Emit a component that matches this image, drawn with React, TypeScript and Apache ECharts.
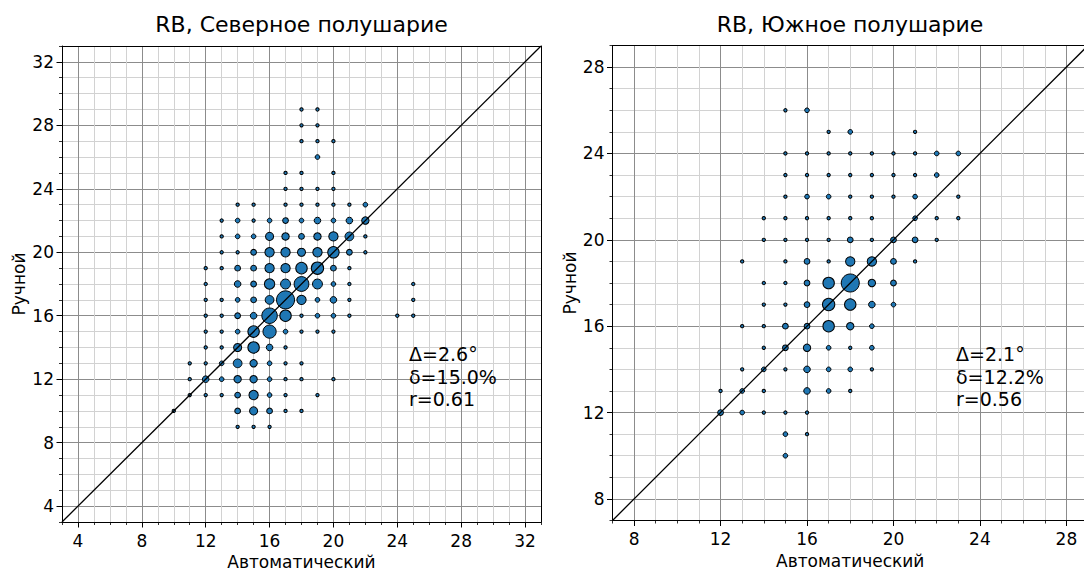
import React, { useEffect, useRef } from "react";
import * as echarts from "echarts";

const FONT = "DejaVu Sans";

const northTitle = "RB, Северное полушарие";
const southTitle = "RB, Южное полушарие";
const xName = "Автоматический";
const yName = "Ручной";

const northRange = [3, 33];
const southRange = [7, 29];
const northTicks = [4, 8, 12, 16, 20, 24, 28, 32];
const southTicks = [8, 12, 16, 20, 24, 28];

const northStats = ["Δ=2.6°", "δ=15.0%", "r=0.61"];
const southStats = ["Δ=2.1°", "δ=12.2%", "r=0.56"];

// [automatic, manual, count]
const northPoints: number[][] = [
  [18, 29, 1], [19, 29, 1],
  [18, 28, 1], [19, 28, 1],
  [18, 27, 1], [19, 27, 1], [20, 27, 1],
  [19, 26, 2],
  [17, 25, 1], [18, 25, 1], [20, 25, 1],
  [17, 24, 1], [18, 24, 1], [19, 24, 1], [20, 24, 1],
  [14, 23, 1], [15, 23, 1], [17, 23, 1], [18, 23, 1], [19, 23, 1], [20, 23, 1], [21, 23, 1], [22, 23, 2],
  [13, 22, 1], [14, 22, 2], [15, 22, 1], [16, 22, 2], [17, 22, 3], [18, 22, 2], [19, 22, 4], [20, 22, 2], [21, 22, 4], [22, 22, 5],
  [13, 21, 1], [14, 21, 2], [15, 21, 2], [16, 21, 6], [17, 21, 5], [18, 21, 3], [19, 21, 5], [20, 21, 8], [21, 21, 7], [22, 21, 1],
  [13, 20, 1], [14, 20, 1], [15, 20, 3], [16, 20, 8], [17, 20, 8], [18, 20, 6], [19, 20, 8], [20, 20, 12], [21, 20, 3], [22, 20, 1],
  [12, 19, 1], [13, 19, 1], [14, 19, 3], [15, 19, 3], [16, 19, 8], [17, 19, 8], [18, 19, 12], [19, 19, 14], [20, 19, 3], [21, 19, 1],
  [12, 18, 1], [14, 18, 4], [15, 18, 3], [16, 18, 10], [17, 18, 9], [18, 18, 20], [19, 18, 9], [20, 18, 2], [21, 18, 1], [25, 18, 1],
  [12, 17, 1], [13, 17, 1], [14, 17, 2], [15, 17, 3], [16, 17, 7], [17, 17, 30], [18, 17, 8], [19, 17, 2], [20, 17, 4], [21, 17, 1], [25, 17, 1],
  [12, 16, 1], [13, 16, 1], [14, 16, 3], [15, 16, 4], [16, 16, 22], [17, 16, 12], [18, 16, 1], [19, 16, 2], [20, 16, 2], [21, 16, 1], [24, 16, 1], [25, 16, 1],
  [12, 15, 1], [13, 15, 1], [14, 15, 2], [15, 15, 12], [16, 15, 16], [17, 15, 2], [18, 15, 1], [19, 15, 1], [20, 15, 1],
  [12, 14, 1], [13, 14, 1], [14, 14, 6], [15, 14, 12], [16, 14, 4], [17, 14, 1],
  [11, 13, 1], [12, 13, 1], [13, 13, 2], [14, 13, 7], [15, 13, 5], [16, 13, 2], [17, 13, 1], [18, 13, 1],
  [11, 12, 1], [12, 12, 4], [13, 12, 2], [14, 12, 5], [15, 12, 5], [16, 12, 2], [17, 12, 1], [18, 12, 1], [20, 12, 1],
  [11, 11, 1], [12, 11, 1], [13, 11, 1], [14, 11, 3], [15, 11, 8], [16, 11, 2], [17, 11, 1], [19, 11, 1],
  [10, 10, 1], [14, 10, 3], [15, 10, 6], [16, 10, 3], [17, 10, 1], [18, 10, 1],
  [14, 9, 1], [15, 9, 1], [16, 9, 1],
];

const southPoints: number[][] = [
  [15, 26, 1], [16, 26, 2],
  [17, 25, 1], [18, 25, 2], [21, 25, 1],
  [15, 24, 1], [16, 24, 1], [17, 24, 1], [18, 24, 1], [19, 24, 1], [20, 24, 1], [21, 24, 1], [22, 24, 2], [23, 24, 2],
  [15, 23, 1], [16, 23, 1], [17, 23, 1], [18, 23, 1], [19, 23, 1], [20, 23, 1], [21, 23, 1], [22, 23, 2],
  [15, 22, 1], [16, 22, 2], [17, 22, 2], [18, 22, 1], [19, 22, 1], [20, 22, 1], [21, 22, 2], [23, 22, 1],
  [14, 21, 1], [15, 21, 1], [16, 21, 1], [17, 21, 1], [18, 21, 1], [19, 21, 1], [21, 21, 2], [22, 21, 1], [23, 21, 1],
  [14, 20, 1], [15, 20, 1], [16, 20, 1], [17, 20, 1], [18, 20, 3], [19, 20, 1], [20, 20, 3], [21, 20, 3], [22, 20, 1],
  [13, 19, 1], [15, 19, 1], [16, 19, 3], [17, 19, 1], [18, 19, 8], [19, 19, 8], [20, 19, 3], [21, 19, 1],
  [14, 18, 1], [15, 18, 1], [16, 18, 3], [17, 18, 12], [18, 18, 30], [19, 18, 5], [20, 18, 3],
  [14, 17, 1], [15, 17, 1], [16, 17, 3], [17, 17, 14], [18, 17, 12], [19, 17, 4], [20, 17, 2],
  [13, 16, 1], [14, 16, 1], [15, 16, 3], [16, 16, 3], [17, 16, 12], [18, 16, 5], [19, 16, 2],
  [14, 15, 1], [15, 15, 3], [16, 15, 5], [17, 15, 2], [18, 15, 1], [19, 15, 2],
  [13, 14, 1], [14, 14, 2], [15, 14, 1], [16, 14, 4], [17, 14, 2], [18, 14, 2], [19, 14, 1],
  [12, 13, 1], [13, 13, 2], [14, 13, 1], [16, 13, 4], [17, 13, 2], [18, 13, 1],
  [12, 12, 3], [13, 12, 2], [14, 12, 1], [15, 12, 1], [16, 12, 1],
  [15, 11, 2], [16, 11, 1],
  [15, 10, 2],
];

const sizeOf = (n: number) => 3.3 * Math.sqrt(n);

function buildAxes(
  kind: "x" | "y",
  gridIndex: number,
  range: number[],
  ticks: number[],
  name: string,
  nameGap: number
) {
  const [min, max] = range;
  const pos = kind === "x" ? "bottom" : "left";
  const opp = kind === "x" ? "top" : "right";
  const main = {
    type: "value",
    gridIndex,
    min,
    max,
    interval: 1,
    z: 0,
    position: pos,
    offset: 0,
    name,
    nameLocation: "middle",
    nameGap,
    nameRotate: kind === "y" ? 90 : 0,
    nameTextStyle: { fontFamily: FONT, fontSize: 17, color: "#000" },
    axisLine: { show: false, onZero: false },
    axisTick: { show: true, length: 3, lineStyle: { color: "#000", width: 0.8 } },
    axisLabel: {
      show: true,
      margin: kind === "x" ? 10 : 8,
      fontFamily: FONT,
      fontSize: 17,
      color: "#000",
      showMinLabel: true,
      showMaxLabel: true,
      formatter: (v: number) => (ticks.indexOf(Math.round(v)) >= 0 ? String(Math.round(v)) : ""),
    },
    splitLine: {
      show: true,
      lineStyle: { color: ["#d2d2d2", "#8c8c8c", "#d2d2d2", "#d2d2d2"], width: 1 },
    },
  };
  const major = {
    type: "value",
    gridIndex,
    min,
    max,
    z: 3,
    position: pos,
    offset: 0,
    axisLine: { show: true, onZero: false, lineStyle: { color: "#000", width: 1 } },
    axisTick: { show: true, length: 5.5, customValues: ticks, lineStyle: { color: "#000", width: 1 } },
    axisLabel: { show: false },
    splitLine: { show: false },
  };
  const frame = {
    type: "value",
    gridIndex,
    min,
    max,
    z: 3,
    position: opp,
    offset: 0,
    axisLine: { show: true, onZero: false, lineStyle: { color: "#000", width: 1 } },
    axisTick: { show: false },
    axisLabel: { show: false },
    splitLine: { show: false },
  };
  return [main, major, frame];
}

function statsText(x: number, lines: string[]) {
  const ys = [354, 376.7, 398.5];
  return lines.map((t, i) => ({
    type: "text",
    x,
    y: ys[i],
    z: 50,
    style: {
      text: t,
      font: `19px "${FONT}"`,
      fill: "#000",
      align: "left",
      verticalAlign: "middle",
      textAlign: "left",
      textVerticalAlign: "middle",
    },
  }));
}

function titleText(x: number, text: string) {
  return {
    type: "text",
    x,
    y: 24,
    z: 50,
    style: {
      text,
      font: `22px "${FONT}"`,
      fill: "#000",
      align: "center",
      verticalAlign: "middle",
      textAlign: "center",
      textVerticalAlign: "middle",
    },
  };
}

function scatterSeries(points: number[][], axisIndex: number) {
  return {
    type: "scatter",
    xAxisIndex: axisIndex,
    yAxisIndex: axisIndex,
    z: 5,
    data: points.map((p) => [p[0], p[1], p[2]]),
    symbol: "circle",
    symbolSize: (v: number[]) => sizeOf(v[2]),
    itemStyle: { color: "#1f77b4", borderColor: "#000", borderWidth: 1, opacity: 1 },
    emphasis: { disabled: true },
  };
}

function diagonalSeries(range: number[], axisIndex: number) {
  return {
    type: "line",
    xAxisIndex: axisIndex,
    yAxisIndex: axisIndex,
    z: 8,
    data: [
      [range[0], range[0]],
      [range[1], range[1]],
    ],
    symbol: "none",
    lineStyle: { color: "#000", width: 1.3 },
    emphasis: { disabled: true },
  };
}

export default function App() {
  const ref = useRef<HTMLDivElement>(null);

  useEffect(() => {
    document.body.style.margin = "0";
    if (!ref.current) return;
    const chart = echarts.init(ref.current, null, { renderer: "svg" });

    const xAxes = [
      ...buildAxes("x", 0, northRange, northTicks, xName, 27),
      ...buildAxes("x", 1, southRange, southTicks, xName, 27),
    ];
    const yAxes = [
      ...buildAxes("y", 0, northRange, northTicks, yName, 35),
      ...buildAxes("y", 1, southRange, southTicks, yName, 34),
    ];

    chart.setOption({
      animation: false,
      backgroundColor: "#fff",
      textStyle: { fontFamily: FONT },
      grid: [
        { left: 62, top: 46, width: 479, height: 476, containLabel: false, outerBoundsMode: "none" },
        { left: 612.5, top: 45.5, width: 475.5, height: 475, containLabel: false, outerBoundsMode: "none" },
      ],
      xAxis: xAxes,
      yAxis: yAxes,
      series: [
        scatterSeries(northPoints, 0),
        diagonalSeries(northRange, 0),
        scatterSeries(southPoints, 3),
        diagonalSeries(southRange, 3),
      ],
      graphic: [
        titleText(301.5, northTitle),
        titleText(850, southTitle),
        ...statsText(409, northStats),
        ...statsText(956, southStats),
      ],
    });

    return () => {
      chart.dispose();
    };
  }, []);

  return <div ref={ref} style={{ width: 1084, height: 572 }} />;
}
